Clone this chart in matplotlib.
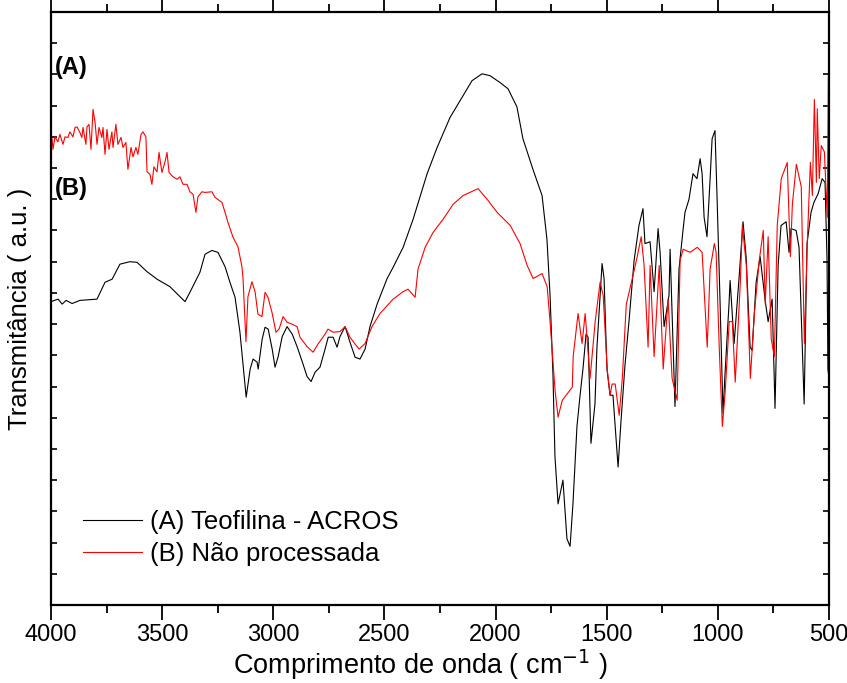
import matplotlib.pyplot as plt
from matplotlib.ticker import MultipleLocator, NullFormatter

plt.rcParams['font.family'] = ['Liberation Sans', 'DejaVu Sans']

# (A) Teofilina - ACROS
wn_a = [4000, 3968, 3950, 3932, 3905, 3870, 3793, 3757, 3725, 3690, 3645, 3613, 3568, 3523,
        3465, 3397, 3375, 3330, 3307, 3276, 3249, 3217, 3195, 3172, 3150, 3122, 3104, 3091,
        3073, 3068, 3050, 3037, 3023, 3005, 2992, 2978, 2960, 2938, 2915, 2893, 2870, 2848,
        2830, 2812, 2790, 2767, 2753, 2731, 2713, 2700, 2677, 2655, 2632, 2610, 2587, 2565,
        2533, 2488, 2461, 2416, 2371, 2308, 2263, 2205, 2151, 2106, 2061, 2025, 1980, 1944,
        1904, 1877, 1832, 1791, 1769, 1755, 1742, 1733, 1719, 1697, 1679, 1665, 1652, 1634,
        1620, 1607, 1593, 1584, 1571, 1553, 1544, 1521, 1512, 1499, 1485, 1472, 1449, 1436,
        1418, 1400, 1377, 1355, 1337, 1328, 1305, 1287, 1269, 1260, 1242, 1220, 1215, 1193,
        1175, 1157, 1148, 1130, 1112, 1094, 1080, 1071, 1062, 1049, 1035, 1026, 1013, 1004,
        990, 977, 968, 950, 945, 927, 905, 887, 873, 855, 846, 828, 810, 788, 774, 756, 743,
        729, 716, 693, 680, 671, 648, 635, 612, 599, 581, 568, 549, 531, 518, 509, 505, 500]
tr_a = [48.6, 49.0, 48.2, 48.8, 48.3, 48.8, 49.0, 51.7, 52.2, 54.6, 55.0, 54.9, 53.4, 52.2,
        51.0, 48.6, 50.1, 53.3, 56.2, 56.8, 56.5, 54.2, 51.7, 49.3, 43.7, 33.3, 37.8, 39.4,
        38.9, 37.8, 42.6, 44.5, 44.2, 41.0, 38.1, 39.8, 43.0, 44.6, 43.4, 41.4, 39.0, 36.6,
        35.8, 37.3, 38.1, 41.0, 42.9, 42.9, 41.3, 43.0, 44.6, 42.1, 39.7, 39.4, 41.0, 44.6,
        48.2, 52.3, 54.1, 57.3, 61.8, 69.1, 73.3, 78.1, 81.3, 84.0, 85.1, 84.8, 83.7, 82.7,
        79.8, 74.7, 69.8, 65.6, 58.6, 49.6, 37.0, 23.8, 16.2, 20.0, 10.6, 9.4, 16.2, 28.6,
        33.6, 37.8, 43.4, 42.9, 25.9, 32.2, 41.3, 54.7, 52.3, 37.8, 33.6, 33.6, 22.1, 29.4,
        38.4, 45.4, 55.2, 60.8, 63.5, 57.9, 58.2, 50.2, 60.3, 56.5, 44.6, 49.6, 57.0, 31.8,
        53.8, 60.0, 62.9, 65.0, 69.1, 68.3, 71.5, 69.1, 62.1, 59.0, 68.3, 74.7, 76.0, 65.6,
        48.2, 30.7, 37.0, 48.2, 52.0, 41.9, 52.3, 61.4, 55.8, 41.3, 40.8, 51.7, 55.8, 49.0,
        45.4, 49.0, 31.5, 54.4, 60.8, 61.4, 56.5, 60.3, 60.0, 57.3, 32.2, 57.9, 62.9, 64.5,
        65.9, 68.3, 67.7, 55.2, 37.8, 36.3]

# (B) Nao processada
wn_b = [3996, 3991, 3982, 3969, 3960, 3946, 3937, 3924, 3915, 3901, 3892, 3883, 3870, 3861,
        3856, 3843, 3838, 3829, 3820, 3811, 3802, 3793, 3784, 3771, 3766, 3757, 3748, 3739,
        3726, 3721, 3708, 3699, 3685, 3676, 3663, 3654, 3640, 3631, 3618, 3609, 3595, 3586,
        3573, 3568, 3555, 3546, 3537, 3523, 3514, 3501, 3487, 3478, 3469, 3451, 3433, 3420,
        3406, 3388, 3375, 3361, 3348, 3339, 3321, 3307, 3276, 3262, 3231, 3217, 3204, 3181,
        3159, 3141, 3136, 3123, 3114, 3096, 3082, 3069, 3051, 3037, 3024, 3006, 2988, 2974,
        2956, 2938, 2916, 2893, 2880, 2848, 2821, 2799, 2767, 2754, 2731, 2700, 2677, 2655,
        2632, 2614, 2587, 2556, 2520, 2461, 2416, 2394, 2362, 2349, 2317, 2281, 2236, 2191,
        2146, 2079, 2038, 1993, 1934, 1890, 1858, 1831, 1791, 1768, 1755, 1732, 1719, 1700,
        1655, 1651, 1629, 1611, 1597, 1575, 1552, 1530, 1516, 1498, 1485, 1476, 1462, 1444,
        1430, 1412, 1385, 1363, 1345, 1332, 1314, 1305, 1287, 1264, 1246, 1224, 1206, 1183,
        1170, 1156, 1125, 1093, 1071, 1048, 1035, 1016, 1008, 994, 980, 967, 949, 935, 922,
        899, 890, 872, 854, 836, 814, 796, 787, 774, 760, 746, 733, 715, 688, 674, 665, 647,
        625, 611, 598, 584, 575, 566, 557, 553, 544, 535, 521, 508, 503, 500]
tr_b = [74.9, 73.0, 75.0, 74.2, 75.4, 73.8, 75.0, 74.9, 75.8, 75.0, 76.5, 76.6, 75.7, 74.9,
        76.5, 73.8, 76.6, 77.0, 73.0, 79.4, 77.4, 73.8, 76.5, 74.9, 76.5, 72.2, 76.2, 73.0,
        75.8, 73.3, 77.0, 73.8, 74.9, 73.3, 74.1, 69.8, 73.3, 71.8, 73.3, 72.2, 75.4, 75.8,
        75.0, 69.4, 69.0, 67.4, 70.2, 69.4, 72.5, 69.3, 71.0, 72.5, 69.3, 68.6, 68.2, 68.6,
        67.4, 67.4, 66.2, 65.8, 62.9, 65.4, 66.2, 66.1, 66.2, 65.3, 64.5, 62.9, 61.3, 58.9,
        57.4, 54.2, 52.2, 42.2, 49.4, 51.8, 50.2, 46.6, 46.2, 50.1, 49.3, 46.9, 43.7, 44.2,
        46.2, 45.3, 45.0, 44.6, 42.9, 41.4, 40.5, 41.8, 43.4, 44.2, 43.7, 43.8, 44.6, 42.9,
        41.8, 41.0, 41.9, 44.6, 46.7, 49.0, 50.2, 50.6, 49.3, 53.8, 57.3, 59.7, 61.8, 64.2,
        65.6, 66.7, 65.0, 62.9, 60.8, 57.9, 54.4, 52.3, 53.1, 51.0, 45.4, 34.2, 30.1, 32.8,
        34.9, 39.8, 46.7, 41.9, 46.7, 36.3, 45.4, 51.7, 49.6, 37.8, 33.6, 35.4, 35.4, 30.4,
        36.3, 48.2, 52.3, 55.8, 59.0, 54.4, 41.3, 54.4, 39.8, 54.4, 37.8, 49.0, 36.3, 32.8,
        55.2, 57.0, 56.5, 57.3, 56.5, 41.3, 53.8, 57.9, 56.5, 41.3, 28.6, 34.2, 45.4, 45.4, 35.7,
        51.7, 60.8, 54.4, 36.3, 46.7, 55.2, 60.0, 48.2, 59.0, 42.6, 39.8, 60.8, 68.3, 70.9,
        55.8, 64.2, 70.6, 67.0, 41.9, 57.9, 70.9, 65.6, 81.0, 67.7, 79.5, 68.3, 73.6, 72.6,
        62.1, 84.8, 85.1]

labels = ['(A) Teofilina - ACROS', '(B) N\u00e3o processada']

fig = plt.figure(figsize=(8.47, 6.83), dpi=100)
ax = fig.add_axes([0.0602, 0.1142, 0.9186, 0.8682])

ax.plot(wn_a, tr_a, color='black', lw=0.8, label=labels[0])
ax.plot(wn_b, tr_b, color='red', lw=0.8, label=labels[1])

ax.set_xlim(4000, 500)
ax.set_ylim(0, 95)
ax.xaxis.set_major_locator(MultipleLocator(500))
ax.xaxis.set_minor_locator(MultipleLocator(250))
ax.yaxis.set_major_locator(MultipleLocator(5))
ax.yaxis.set_major_formatter(NullFormatter())

ax.tick_params(axis='x', which='major', direction='out', length=11, width=1.3,
               labelsize=17, pad=3)
ax.tick_params(axis='x', which='minor', direction='out', length=6, width=1.3)
ax.tick_params(axis='x', which='both', top=True)
ax.tick_params(axis='y', which='both', direction='in', length=4, width=1.2,
               right=True)
for s in ax.spines.values():
    s.set_linewidth(1.6)

ax.set_xlabel('Comprimento de onda ( cm$^{-1}$ )', fontsize=19.5)
ax.xaxis.set_label_coords(0.474, -0.072)
ax.set_ylabel('Transmit\u00e2ncia ( a.u. )', fontsize=18.5, labelpad=10)

ax.text(0.005, 0.907, '(A)', transform=ax.transAxes, fontsize=17, fontweight='bold',
        va='center')
ax.text(0.005, 0.702, '(B)', transform=ax.transAxes, fontsize=17, fontweight='bold',
        va='center')

ax.legend(loc='upper left', bbox_to_anchor=(0.025, 0.182), frameon=False, fontsize=18.5,
          borderpad=0, handlelength=2.3, handletextpad=0.28, labelspacing=0.3)

fig.savefig('out.png', dpi=100)
